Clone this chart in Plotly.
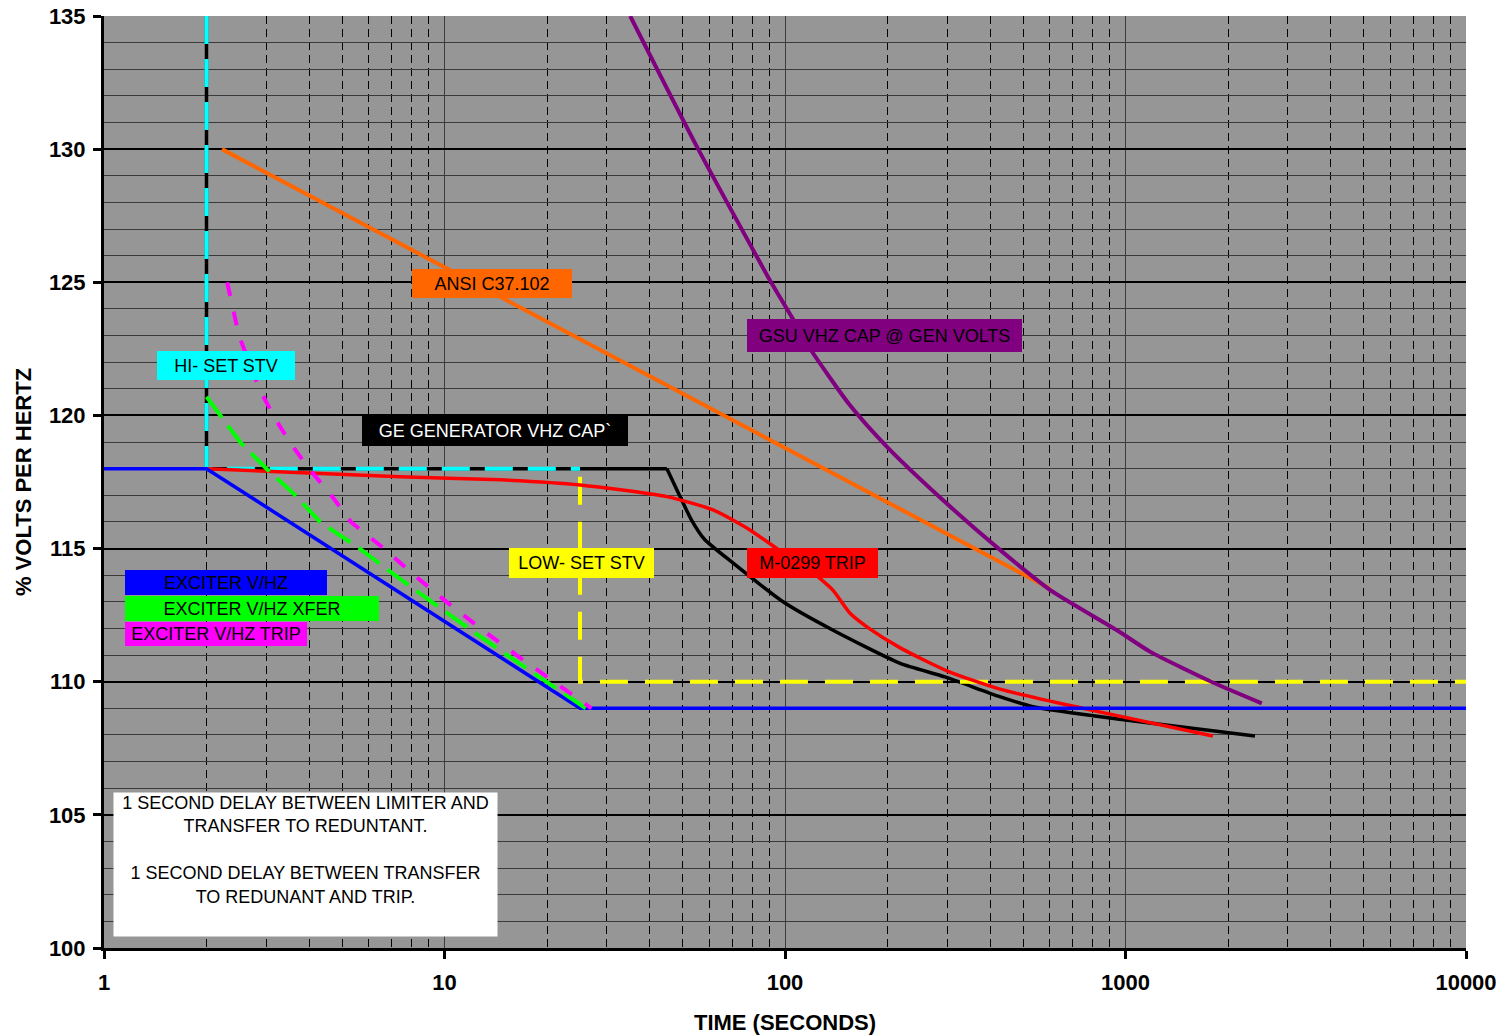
import plotly.graph_objects as go

# ---------------- data ----------------
X_TICKS = [1, 10, 100, 1000, 10000]
X_TICK_TEXT = ["1", "10", "100", "1000", "10000"]
Y_TICKS = [100, 105, 110, 115, 120, 125, 130, 135]

# GE generator V/Hz capability
GE_T = [2, 2, 45, 49.2, 53, 58, 70.3, 98.7, 138, 217, 295, 427, 535, 1000, 2400]
GE_V = [135, 118, 118, 116.95, 116.1, 115.35, 114.46, 113.0, 111.94, 110.7, 110.18, 109.44, 109.06, 108.56, 107.96]

# HI-SET STV
HI_T = [2, 2, 25]
HI_V = [135, 118, 118]

# LOW-SET STV
LOW_T = [25, 25, 10000]
LOW_V = [117.7, 110, 110]

# Exciter V/Hz limiter
EXC_T = [1, 2, 25, 10000]
EXC_V = [118, 118, 109, 109]

# Exciter V/Hz transfer
XFER_T = [2, 2.51, 3, 3.65, 4.31, 5.64, 7.15, 9.14, 11.77, 15.26, 19.9, 26]
XFER_V = [120.7, 119, 118, 117, 116, 115, 114, 113, 112, 111, 110, 109]

# Exciter V/Hz trip
TRIP_T = [2.3, 2.49, 2.86, 3.14, 3.51, 4, 4.65, 5.31, 6.64, 8.15, 10.14, 12.77, 16.26, 20.9, 27]
TRIP_V = [125, 123, 121, 120, 119, 118, 117, 116, 115, 114, 113, 112, 111, 110, 109]

# M-0299 trip
M_T = [2, 7.4, 14.6, 25, 45, 61.5, 78.9, 98.6, 118, 138, 155, 174, 218, 300, 428, 750, 1807]
M_V = [118, 117.7, 117.58, 117.39, 116.95, 116.45, 115.7, 114.84, 114.2, 113.45, 112.58, 112.06, 111.27, 110.4, 109.72, 109.0, 107.96]

# ANSI C37.102
ANSI_T = [2.22, 600]
ANSI_V = [130, 113.5]

# GSU V/Hz capability at generator volts
GSU_T = [35.1, 55.6, 91.4, 104.5, 120, 155, 199, 298, 428, 600, 942, 1180, 1806, 2513]
GSU_V = [135, 130, 124.96, 123.71, 122.4, 120.39, 118.83, 116.7, 114.95, 113.45, 111.94, 111.13, 109.97, 109.19]

# ---------------- figure ----------------
W, H = 1502, 1035
L, R, T, B = 104, 36, 16, 87
PW, PH = W - L - R, H - T - B


def px(x, y):
    return (x - L) / PW, (H - B - y) / PH


fig = go.Figure()


def line(t, v, color, width=3.5, dash="solid", shape="linear"):
    fig.add_trace(go.Scatter(x=t, y=v, mode="lines", showlegend=False,
                             line=dict(color=color, width=width, dash=dash, shape=shape,
                                       smoothing=0.6 if shape == "spline" else None),
                             hoverinfo="skip"))


line(GE_T[:3], GE_V[:3], "#000000", 3.5)
line(GE_T[2:], GE_V[2:], "#000000", 3.5, shape="spline")
line(HI_T, HI_V, "#00FFFF", 4, "28px,15px")
line(LOW_T, LOW_V, "#FFFF00", 4, "28px,17px")
line(ANSI_T, ANSI_V, "#FF6600", 4)
line(GSU_T, GSU_V, "#800080", 4, shape="spline")
line(M_T, M_V, "#FF0000", 3.5, shape="spline")
line(EXC_T, EXC_V, "#0000FF", 3.5)
line(XFER_T, XFER_V, "#00FF00", 4, "26px,10px")
line(TRIP_T, TRIP_V, "#FF00FF", 4, "14px,16px")

FONT = "Arial, Liberation Sans, sans-serif"


def label(text, x0, x1, y0, y1, bg, fg="#000000", size=18):
    cx, cy = px((x0 + x1) / 2, (y0 + y1) / 2)
    fig.add_annotation(xref="paper", yref="paper", x=cx, y=cy, text=text,
                       showarrow=False, bgcolor=bg, width=x1 - x0, height=y1 - y0,
                       borderpad=0, borderwidth=0,
                       font=dict(family=FONT, size=size, color=fg),
                       xanchor="center", yanchor="middle")


label("ANSI C37.102", 412, 572, 269, 298, "#FF6600")
label("GSU VHZ CAP @ GEN VOLTS", 747, 1022, 319, 352, "#800080")
label("HI- SET STV", 157, 295, 351, 380, "#00FFFF")
label("GE GENERATOR VHZ CAP`", 362, 628, 416, 446, "#000000", "#FFFFFF")
label("LOW- SET STV", 509, 654, 548, 578, "#FFFF00")
label("M-0299 TRIP", 747, 878, 548, 578, "#FF0000")
label("EXCITER V/HZ", 125, 327, 570, 595, "#0000FF")
label("EXCITER V/HZ XFER", 125, 379, 596, 621, "#00FF00")
label("EXCITER V/HZ TRIP", 125, 307, 622, 646, "#FF00FF")

cx, cy = px((114 + 497) / 2, 792)
fig.add_annotation(xref="paper", yref="paper", x=cx, y=cy,
                   text="1 SECOND DELAY BETWEEN LIMITER AND<br>TRANSFER TO REDUNTANT.<br><br>"
                        "1 SECOND DELAY BETWEEN TRANSFER<br>TO REDUNANT AND TRIP.",
                   showarrow=False, bgcolor="#FFFFFF", width=383, height=143,
                   valign="top", align="center", borderpad=0,
                   font=dict(family=FONT, size=18, color="#000000"),
                   xanchor="center", yanchor="top")

fig.update_layout(
    width=W, height=H,
    margin=dict(l=L, r=R, t=T, b=B, pad=0, autoexpand=False),
    paper_bgcolor="#FFFFFF",
    plot_bgcolor="#969696",
    showlegend=False,
    font=dict(family=FONT, color="#000000"),
)

fig.update_xaxes(
    type="log", range=[0, 4], automargin=False, ticklabeloverflow="allow",
    tickvals=X_TICKS, ticktext=X_TICK_TEXT,
    tickfont=dict(family=FONT, size=22, color="#000000", weight="bold"),
    ticks="outside", ticklen=8, tickwidth=3, tickcolor="#000000",
    ticklabelstandoff=5,
    showline=True, linecolor="#000000", linewidth=3,
    showgrid=True, gridcolor="#3c3c3c", gridwidth=1,
    minor=dict(dtick="D1", showgrid=True, gridcolor="#000000", gridwidth=1,
               griddash="8px,5px", ticks=""),
    zeroline=False,
    title=dict(text="TIME (SECONDS)", standoff=26,
               font=dict(family=FONT, size=22, color="#000000", weight="bold")),
)

fig.update_yaxes(
    range=[100, 135], tickvals=Y_TICKS, automargin=False, ticklabeloverflow="allow",
    tickfont=dict(family=FONT, size=22, color="#000000", weight="bold"),
    ticks="outside", ticklen=8, tickwidth=3, tickcolor="#000000",
    ticklabelstandoff=3,
    showline=True, linecolor="#000000", linewidth=3,
    showgrid=True, gridcolor="#000000", gridwidth=1.5,
    minor=dict(dtick=1, showgrid=True, gridcolor="#3a3a3a", gridwidth=1, ticks=""),
    zeroline=False,
    title=dict(text="% VOLTS PER HERTZ", standoff=12,
               font=dict(family=FONT, size=22, color="#000000", weight="bold")),
)

fig.write_html("out.html", config={"displayModeBar": False},
               post_script="document.body.style.margin='0';document.body.style.overflow='hidden';")
